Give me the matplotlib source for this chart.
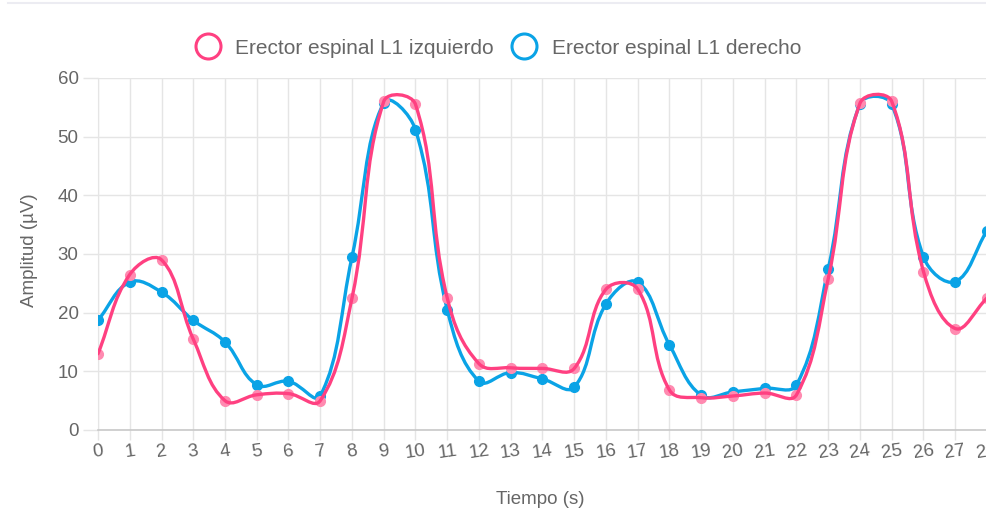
import numpy as np
import matplotlib
matplotlib.use("Agg")
import matplotlib.pyplot as plt
from matplotlib.path import Path
from matplotlib.patches import PathPatch
from matplotlib.lines import Line2D
from matplotlib import font_manager

# ---------------- data ----------------
tiempo = list(range(0, 29))
izquierdo = [13.0, 26.5, 29.0, 15.5, 5.0, 6.0, 6.2, 5.0, 22.5, 56.0,
             55.5, 22.5, 11.3, 10.6, 10.5, 10.5, 24.0, 24.0, 6.8, 5.5,
             5.8, 6.3, 6.0, 25.8, 55.7, 56.0, 27.0, 17.3, 22.5]
derecho = [18.7, 25.2, 23.5, 18.7, 15.0, 7.7, 8.3, 5.8, 29.5, 55.8,
           51.2, 20.5, 8.3, 9.8, 8.7, 7.3, 21.5, 25.2, 14.5, 5.9,
           6.5, 7.1, 7.7, 27.5, 55.6, 55.5, 29.5, 25.3, 34.0]
label_izq = "Erector espinal L1 izquierdo"
label_der = "Erector espinal L1 derecho"
y_ticks = [0, 10, 20, 30, 40, 50, 60]
x_label = "Tiempo (s)"
y_label = "Amplitud (µV)"

PINK = "#ff4081"
BLUE = "#0aa3e6"
TXT = "#666666"
GRID = "#e5e5e5"

names = {f.name for f in font_manager.fontManager.ttflist}
fam = "Liberation Sans Narrow" if "Liberation Sans Narrow" in names else "Liberation Sans"
plt.rcParams["font.family"] = [fam, "DejaVu Sans"]

W, H, DPI = 987, 514, 100
fig = plt.figure(figsize=(W / DPI, H / DPI), dpi=DPI)
left_px, right_px = 98, 987
top_px, bot_px = 78, 430
ax = fig.add_axes([left_px / W, (H - bot_px) / H, (right_px - left_px) / W, (bot_px - top_px) / H])
ax.set_xlim(0, (right_px - left_px) / 32.05)
ax.set_ylim(0, 60)

ax.set_xticks(tiempo)
ax.set_xticklabels([str(t) for t in tiempo], rotation=8)
ax.set_yticks(y_ticks)
ax.tick_params(axis="both", colors=GRID, labelcolor=TXT, labelsize=13.5, width=1)
ax.tick_params(axis="y", length=11, pad=3)
ax.tick_params(axis="x", length=7, pad=2)
ax.grid(True, color=GRID, lw=1)
ax.set_axisbelow(True)
for s in ["top", "right"]:
    ax.spines[s].set_visible(False)
ax.spines["left"].set_color(GRID)
ax.spines["bottom"].set_color("#c8c8c8")
ax.spines["bottom"].set_linewidth(1.2)


def spline_path(xs, ys, tension=0.4):
    pts = np.column_stack([xs, ys]).astype(float)
    disp = ax.transData.transform(pts)
    n = len(disp)
    cp_prev = np.zeros_like(disp)
    cp_next = np.zeros_like(disp)
    for i in range(n):
        cur = disp[i]
        prev = disp[i - 1] if i > 0 else cur
        nxt = disp[i + 1] if i < n - 1 else cur
        d01 = np.hypot(*(cur - prev))
        d12 = np.hypot(*(nxt - cur))
        tot = d01 + d12
        s01 = d01 / tot if tot else 0
        s12 = d12 / tot if tot else 0
        fa, fb = tension * s01, tension * s12
        cp_prev[i] = cur - fa * (nxt - prev)
        cp_next[i] = cur + fb * (nxt - prev)
    inv = ax.transData.inverted()
    verts = [pts[0]]
    codes = [Path.MOVETO]
    for i in range(n - 1):
        verts += [inv.transform(cp_next[i]), inv.transform(cp_prev[i + 1]), pts[i + 1]]
        codes += [Path.CURVE4] * 3
    return Path(verts, codes)


# blue first (below), pink on top
ax.add_patch(PathPatch(spline_path(tiempo, derecho), fill=False, edgecolor=BLUE,
                       lw=2.4, zorder=3, clip_on=True, capstyle="round", joinstyle="round"))
ax.plot(tiempo, derecho, ls="none", marker="o", ms=7, mfc=BLUE, mec=BLUE, zorder=4, clip_on=True)
ax.plot(tiempo, izquierdo, ls="none", marker="o", ms=7, mfc="#ff8ab0", mec="#ff8ab0", zorder=5, clip_on=True)
ax.add_patch(PathPatch(spline_path(tiempo, izquierdo), fill=False, edgecolor=PINK,
                       lw=2.4, zorder=6, clip_on=True, capstyle="round", joinstyle="round"))

# axis titles
fig.text(540 / W, 1 - 500 / H, x_label, ha="center", va="center", color=TXT, fontsize=13.5)
fig.text(30 / W, 1 - 250 / H, y_label, ha="center", va="center", color=TXT, fontsize=13.5, rotation=90)

# legend
handles = [Line2D([], [], ls="none", marker="o", ms=18, mfc="white", mec=PINK, mew=2.2),
           Line2D([], [], ls="none", marker="o", ms=18, mfc="white", mec=BLUE, mew=2.2)]
leg = fig.legend(handles, [label_izq, label_der], loc="center", ncol=2,
                 bbox_to_anchor=(498 / W, 1 - 48 / H), frameon=False, fontsize=15,
                 handlelength=1.2, handletextpad=0.7, columnspacing=0.9, labelcolor=TXT)

# top card border
fig.add_artist(Line2D([8 / W, 1], [1 - 3 / H, 1 - 3 / H], color="#ececf2", lw=1.5))

fig.savefig("out.png", dpi=DPI)
